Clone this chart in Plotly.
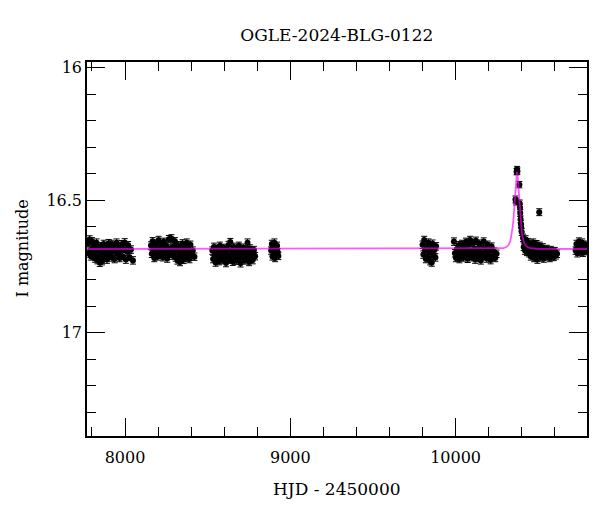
import plotly.graph_objects as go

# Photometric points (HJD - 2450000, I mag), one list per observing season
t1 = [7776, 7781, 7786, 7790, 7795, 7800, 7804, 7809, 7814, 7818,
      7823, 7828, 7833, 7838, 7842, 7847, 7852, 7857, 7861, 7866,
      7871, 7876, 7881, 7886, 7891, 7896, 7901, 7906, 7911, 7916,
      7921, 7926, 7931, 7937, 7943, 7949, 7955, 7961, 7967, 7973,
      7979, 7985, 7991, 7998, 8005, 8012, 8019, 8027, 8036, 8048]
m1 = [16.662, 16.701, 16.648, 16.690, 16.712, 16.655, 16.684, 16.705, 16.668, 16.720,
      16.693, 16.660, 16.726, 16.681, 16.712, 16.736, 16.674, 16.699, 16.730, 16.688,
      16.665, 16.717, 16.695, 16.675, 16.724, 16.690, 16.662, 16.708, 16.683, 16.665,
      16.716, 16.694, 16.671, 16.722, 16.688, 16.660, 16.703, 16.679, 16.718, 16.690,
      16.666, 16.711, 16.684, 16.659, 16.724, 16.693, 16.670, 16.714, 16.686, 16.727]

t2 = [8157, 8162, 8167, 8172, 8177, 8182, 8188, 8193, 8198, 8203,
      8208, 8213, 8219, 8224, 8229, 8234, 8239, 8244, 8250, 8255,
      8260, 8265, 8270, 8276, 8281, 8286, 8291, 8296, 8302, 8307,
      8312, 8317, 8322, 8328, 8333, 8338, 8343, 8348, 8354, 8359,
      8364, 8369, 8374, 8380, 8385, 8390, 8396, 8402, 8410, 8420]
m2 = [16.671, 16.702, 16.655, 16.690, 16.718, 16.664, 16.697, 16.680, 16.712, 16.650,
      16.688, 16.706, 16.668, 16.694, 16.715, 16.657, 16.686, 16.703, 16.672, 16.720,
      16.690, 16.647, 16.701, 16.682, 16.644, 16.709, 16.676, 16.694, 16.655, 16.716,
      16.688, 16.727, 16.670, 16.703, 16.733, 16.684, 16.712, 16.663, 16.725, 16.695,
      16.676, 16.718, 16.660, 16.700, 16.684, 16.722, 16.668, 16.707, 16.690, 16.713]

t3 = [8528, 8533, 8538, 8543, 8548, 8554, 8559, 8564, 8569, 8574,
      8580, 8585, 8590, 8595, 8600, 8606, 8611, 8616, 8621, 8626,
      8632, 8637, 8642, 8647, 8652, 8658, 8663, 8668, 8673, 8678,
      8684, 8689, 8694, 8699, 8704, 8710, 8715, 8720, 8725, 8730,
      8736, 8741, 8746, 8751, 8756, 8762, 8767, 8773, 8780, 8787]
m3 = [16.690, 16.722, 16.676, 16.706, 16.735, 16.683, 16.714, 16.698, 16.730, 16.672,
      16.708, 16.691, 16.726, 16.680, 16.716, 16.700, 16.737, 16.686, 16.712, 16.669,
      16.724, 16.658, 16.703, 16.688, 16.732, 16.676, 16.710, 16.695, 16.728, 16.684,
      16.718, 16.672, 16.706, 16.738, 16.690, 16.715, 16.679, 16.700, 16.727, 16.686,
      16.712, 16.660, 16.703, 16.733, 16.682, 16.718, 16.694, 16.726, 16.688, 16.711]

t4 = [8884, 8888, 8892, 8896, 8900, 8904, 8908, 8912, 8916, 8920, 8924, 8928]
m4 = [16.690, 16.665, 16.712, 16.680, 16.700, 16.660, 16.718, 16.686, 16.705, 16.672, 16.696, 16.710]

t5 = [9800, 9805, 9810, 9815, 9820, 9825, 9830, 9836, 9841, 9846,
      9851, 9856, 9861, 9866, 9872, 9878, 9882]
m5 = [16.668, 16.705, 16.650, 16.690, 16.722, 16.676, 16.712, 16.660, 16.698, 16.730,
      16.684, 16.735, 16.664, 16.708, 16.688, 16.716, 16.674]

t6 = [9990, 9996, 10002, 10008, 10013, 10018, 10023, 10028, 10033, 10038,
      10043, 10048, 10053, 10058, 10063, 10068, 10073, 10078, 10083, 10088,
      10093, 10098, 10103, 10108, 10113, 10118, 10123, 10128, 10133, 10138,
      10143, 10148, 10153, 10158, 10164, 10170, 10176, 10182, 10188, 10194,
      10200, 10206, 10212, 10218, 10225, 10232, 10240, 10248]
m6 = [16.656, 16.700, 16.718, 16.684, 16.706, 16.670, 16.722, 16.690, 16.712, 16.665,
      16.697, 16.716, 16.676, 16.704, 16.657, 16.690, 16.721, 16.668, 16.709, 16.650,
      16.694, 16.715, 16.661, 16.700, 16.682, 16.724, 16.653, 16.706, 16.688, 16.718,
      16.664, 16.697, 16.727, 16.678, 16.710, 16.656, 16.699, 16.684, 16.720, 16.668,
      16.705, 16.690, 16.726, 16.675, 16.712, 16.694, 16.718, 16.702]

# points around the peak of the event (plus the lone outlier after it)
t_peak = [10362, 10366, 10369, 10372, 10374, 10386, 10388, 10390, 10391, 10393, 10395, 10397, 10400, 10506]
m_peak = [16.497, 16.505, 16.392, 16.384, 16.390, 16.441, 16.512, 16.528, 16.548, 16.572, 16.590, 16.603, 16.620, 16.545]
e_peak = [0.013, 0.013, 0.012, 0.012, 0.012, 0.012, 0.013, 0.013, 0.013, 0.013, 0.013, 0.013, 0.013, 0.013]

t7 = [10408, 10412, 10416, 10420, 10424, 10428, 10432, 10436, 10440, 10445,
      10450, 10455, 10460, 10465, 10470, 10475, 10480, 10485, 10490, 10495,
      10500, 10505, 10510, 10516, 10522, 10528, 10534, 10540, 10546, 10552,
      10558, 10564, 10570, 10576, 10582, 10588, 10594, 10600, 10607, 10614]
m7 = [16.642, 16.676, 16.655, 16.690, 16.648, 16.668, 16.695, 16.658, 16.682, 16.700,
      16.664, 16.712, 16.674, 16.692, 16.660, 16.718, 16.680, 16.702, 16.666, 16.724,
      16.688, 16.708, 16.672, 16.716, 16.694, 16.678, 16.720, 16.690, 16.705, 16.684,
      16.712, 16.696, 16.718, 16.688, 16.706, 16.700, 16.714, 16.692, 16.708, 16.702]

t8 = [10726, 10731, 10736, 10741, 10746, 10751, 10756, 10761, 10766, 10771,
      10776, 10781, 10786, 10791, 10796]
m8 = [16.690, 16.665, 16.700, 16.678, 16.656, 16.694, 16.672, 16.688, 16.660, 16.698,
      16.676, 16.686, 16.668, 16.692, 16.680]

baseline_err = 0.014

# microlensing model curve
model_t = [7770, 10251, 10291, 10311, 10321, 10331, 10341, 10346, 10351, 10356,
           10361, 10366, 10371, 10376, 10381, 10386, 10391, 10396, 10401, 10411,
           10421, 10431, 10451, 10491, 10800]
model_m = [16.684, 16.683, 16.681, 16.675, 16.668, 16.654, 16.625, 16.599, 16.564, 16.516,
           16.461, 16.413, 16.393, 16.413, 16.461, 16.516, 16.564, 16.599, 16.625, 16.654,
           16.668, 16.675, 16.681, 16.683, 16.684]

FONT = "DejaVu Serif"


def plot_light_curve() -> go.Figure:
    """
    Curva de luz do evento com barras de erro e o modelo por cima.
    """
    fig = go.Figure()

    t_all = t1 + t2 + t3 + t4 + t5 + t6 + t7 + t8
    m_all = m1 + m2 + m3 + m4 + m5 + m6 + m7 + m8

    fig.add_trace(go.Scatter(
        x=t_all, y=m_all, mode="markers",
        marker=dict(color="black", size=6),
        error_y=dict(type="constant", value=baseline_err, color="black", thickness=1, width=3),
        showlegend=False,
    ))
    fig.add_trace(go.Scatter(
        x=t_peak, y=m_peak, mode="markers",
        marker=dict(color="black", size=6),
        error_y=dict(type="data", array=e_peak, color="black", thickness=1, width=3),
        showlegend=False,
    ))
    fig.add_trace(go.Scatter(
        x=model_t, y=model_m, mode="lines",
        line=dict(color="#ff00ff", width=1.8),
        opacity=0.65,
        showlegend=False,
    ))

    axis_common = dict(
        showline=True, linecolor="black", linewidth=1.5, mirror="ticks",
        ticks="inside", tickcolor="black", tickwidth=1,
        showgrid=False, zeroline=False,
        tickfont=dict(family=FONT, size=16, color="black"),
    )
    fig.update_xaxes(
        range=[7770, 10795], tick0=0, dtick=1000, ticklen=18, tickformat="d",
        ticklabelstandoff=6,
        minor=dict(ticks="inside", dtick=200, tick0=0, ticklen=9, tickcolor="black", tickwidth=1),
        **axis_common,
    )
    fig.update_yaxes(
        range=[17.39, 15.978], tick0=16, dtick=0.5, ticklen=18,
        minor=dict(ticks="inside", dtick=0.1, tick0=16, ticklen=9, tickcolor="black", tickwidth=1),
        **axis_common,
    )

    # la pagina tiene 8px de margen en el body, por eso los margenes van corridos
    fig.update_layout(
        width=600, height=512,
        margin=dict(l=79, r=21, t=54, b=84),
        paper_bgcolor="white", plot_bgcolor="white",
        font=dict(family=FONT, size=17, color="black"),
        title=dict(text="OGLE-2024-BLG-0122", x=0.548, xanchor="center",
                   y=1 - 27 / 512, yanchor="middle", yref="container",
                   font=dict(family=FONT, size=17, color="black")),
        annotations=[
            dict(text="HJD - 2450000", xref="paper", yref="paper", x=0.5, y=-0.142,
                 xanchor="center", yanchor="middle", showarrow=False,
                 font=dict(family=FONT, size=17, color="black")),
            dict(text="I magnitude", xref="paper", yref="paper", x=-0.131, y=0.5,
                 xanchor="center", yanchor="middle", textangle=-90, showarrow=False,
                 font=dict(family=FONT, size=16, color="black")),
        ],
    )
    return fig


if __name__ == "__main__":
    fig = plot_light_curve()
    fig.write_html("out.html")
